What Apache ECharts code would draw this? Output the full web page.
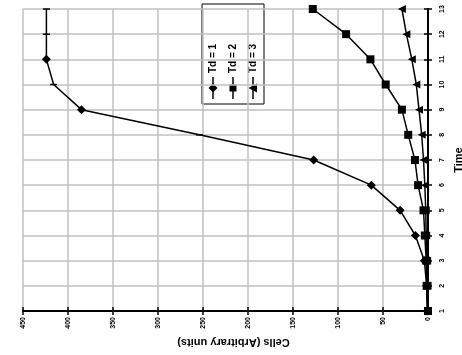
<!DOCTYPE html>
<html>
<head>
<meta charset="utf-8">
<script src="https://cdn.jsdelivr.net/npm/echarts@6/dist/echarts.min.js"></script>
<style>
  html, body { margin: 0; padding: 0; background: #fff; }
  #chart { width: 462px; height: 355px; }
</style>
</head>
<body>
<div id="chart"></div>
<script>
// time points (plotted vertically, chart is turned on its side)
const times = [1, 2, 3, 4, 5, 6, 7, 8, 9, 10, 11, 12, 13];
const seriesNames = ['Td = 1', 'Td = 2', 'Td = 3'];
const td1 = [1, 1.5, 4, 14, 31, 63, 127, 254, 385, 416, 424, 424, 424];
const td2 = [0, 1.5, 2, 3.5, 5, 11, 14.5, 22, 29, 47, 64, 91, 128];
const td3 = [0, 0.5, 1, 2, 2.5, 3.5, 5, 7, 10, 13, 18, 24, 29];
// times where the Td = 1 marker shows as a short dash
const td1DashTimes = [8, 10, 12, 13];

const chart = echarts.init(document.getElementById('chart'));
const font = 'Liberation Sans, Arial, sans-serif';

function pairs(vals, dashTimes) {
  return vals.map(function (v, i) {
    if (dashTimes && dashTimes.indexOf(times[i]) >= 0) {
      return { value: [v, times[i]], symbol: 'rect', symbolSize: [7, 1.5], symbolRotate: 0 };
    }
    return [v, times[i]];
  });
}

function lineSeries(name, vals, symbol, size, rot, dashTimes) {
  return {
    name: name,
    type: 'line',
    data: pairs(vals, dashTimes),
    symbol: symbol,
    symbolSize: size,
    symbolRotate: rot,
    showAllSymbol: true,
    lineStyle: { color: '#000', width: 1.5 },
    itemStyle: { color: '#000' },
    animation: false
  };
}

// legend drawn turned like the rest of the chart
function legendGroup(left, bottom) {
  const kids = [{
    type: 'rect',
    shape: { x: 0, y: 0, width: 100, height: 62 },
    style: { fill: '#fff', stroke: '#000', lineWidth: 1 }
  }];
  const shapes = [
    { type: 'polygon', shape: { points: [[-4.5, 0], [0, -4.5], [4.5, 0], [0, 4.5]] } },
    { type: 'rect', shape: { x: -3.5, y: -3.5, width: 7, height: 7 } },
    { type: 'polygon', shape: { points: [[-4.5, 4], [4.5, 4], [0, -4.5]] } }
  ];
  seriesNames.forEach(function (n, i) {
    const cy = 11 + i * 20;
    kids.push({ type: 'line', shape: { x1: 5, y1: cy, x2: 27, y2: cy }, style: { stroke: '#000', lineWidth: 1.5 } });
    const s = shapes[i];
    kids.push({ type: s.type, x: 16, y: cy, shape: s.shape, style: { fill: '#000' } });
    kids.push({
      type: 'text', x: 31, y: cy,
      style: { text: n, fontSize: 10, fontWeight: 'bold', fontFamily: font, fill: '#000', verticalAlign: 'middle' }
    });
  });
  return { type: 'group', x: left, y: bottom, rotation: Math.PI / 2, children: kids };
}

chart.setOption({
  backgroundColor: '#fff',
  animation: false,
  grid: { left: 23, right: 34, top: 9, bottom: 44, outerBoundsMode: 'none' },
  xAxis: [{
    type: 'value',
    inverse: true,
    min: 0,
    max: 450,
    interval: 50,
    position: 'bottom',
    name: 'Cells (Arbitrary units)',
    nameLocation: 'middle',
    nameRotate: 180,
    nameGap: 24,
    nameTextStyle: { fontSize: 11, fontWeight: 'bold', color: '#000', fontFamily: font, padding: [0, 16, 0, 0] },
    axisLine: { lineStyle: { color: '#000', width: 2 } },
    axisTick: { length: 4, lineStyle: { color: '#000', width: 1.5 } },
    axisLabel: { rotate: 90, margin: 6, fontSize: 7, fontWeight: 'bold', color: '#000', fontFamily: font },
    splitLine: { lineStyle: { color: '#c0c0c0', width: 1.5 } }
  }, {
    // inner half of the cross ticks
    type: 'value', inverse: true, min: 0, max: 450, interval: 50, position: 'bottom',
    axisLine: { show: false },
    axisTick: { inside: true, length: 4, lineStyle: { color: '#000', width: 1.5 } },
    axisLabel: { show: false },
    splitLine: { show: false }
  }],
  yAxis: [{
    type: 'value',
    min: 1,
    max: 13,
    interval: 1,
    position: 'right',
    name: 'Time',
    nameLocation: 'middle',
    nameRotate: 90,
    nameGap: 20,
    nameTextStyle: { fontSize: 11, fontWeight: 'bold', color: '#000', fontFamily: font },
    axisLine: { lineStyle: { color: '#000', width: 2 } },
    axisTick: { length: 4, lineStyle: { color: '#000', width: 1.5 } },
    axisLabel: { rotate: 90, margin: 11, fontSize: 7, fontWeight: 'bold', color: '#000', fontFamily: font },
    splitLine: { lineStyle: { color: '#c0c0c0', width: 1.5 } }
  }, {
    type: 'value', min: 1, max: 13, interval: 1, position: 'right',
    axisLine: { show: false },
    axisTick: { inside: true, length: 4, lineStyle: { color: '#000', width: 1.5 } },
    axisLabel: { show: false },
    splitLine: { show: false }
  }],
  series: [
    lineSeries(seriesNames[0], td1, 'diamond', [9, 9], 0, td1DashTimes),
    lineSeries(seriesNames[1], td2, 'rect', [8, 8], 0),
    lineSeries(seriesNames[2], td3, 'triangle', [8, 8], 90)
  ],
  graphic: [legendGroup(202, 104)]
});
</script>
</body>
</html>
